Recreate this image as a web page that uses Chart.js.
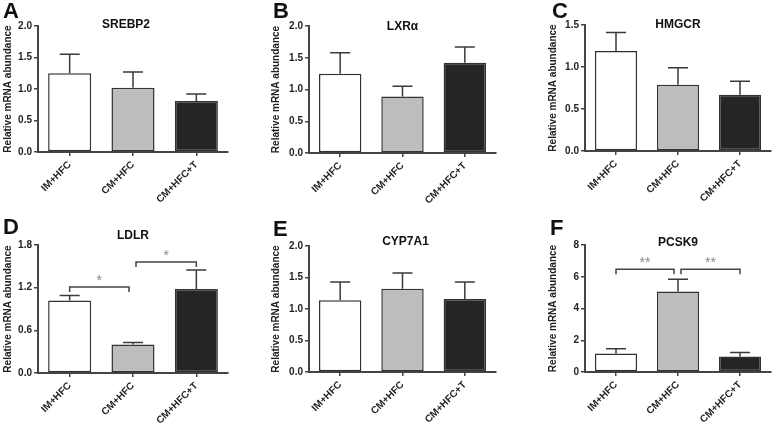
<!DOCTYPE html>
<html>
<head>
<meta charset="utf-8">
<script src="https://cdn.jsdelivr.net/npm/chart.js@4.4.0/dist/chart.umd.min.js"></script>
<style>
body { margin: 0; background: #fff; }
#wrap { position: relative; width: 778px; height: 423px; overflow: hidden; }
canvas { position: absolute; }
</style>
</head>
<body>
<div id="wrap">
  <canvas id="pA" width="259" height="211" style="left:0;top:0"></canvas>
  <canvas id="pB" width="259" height="211" style="left:259px;top:0"></canvas>
  <canvas id="pC" width="260" height="211" style="left:518px;top:0"></canvas>
  <canvas id="pD" width="259" height="212" style="left:0;top:211px"></canvas>
  <canvas id="pE" width="259" height="212" style="left:259px;top:211px"></canvas>
  <canvas id="pF" width="260" height="212" style="left:518px;top:211px"></canvas>
</div>
<script>
const groups = ["IM+HFC", "CM+HFC", "CM+HFC+T"]
const barColors = ["#ffffff", "#bdbdbd", "#252525"]
const yTitle = "Relative mRNA abundance"

// mean and SEM
const srebp2Mean = [1.25, 1.02, 0.81]
const srebp2Sem = [0.30, 0.25, 0.11]
const srebp2Ticks = [0, 0.5, 1.0, 1.5, 2.0]

const lxrMean = [1.25, 0.89, 1.42]
const lxrSem = [0.33, 0.16, 0.25]
const lxrTicks = [0, 0.5, 1.0, 1.5, 2.0]

const hmgcrMean = [1.19, 0.79, 0.67]
const hmgcrSem = [0.22, 0.20, 0.16]
const hmgcrTicks = [0, 0.5, 1.0, 1.5]

const ldlrMean = [1.02, 0.40, 1.18]
const ldlrSem = [0.07, 0.03, 0.27]
const ldlrTicks = [0, 0.6, 1.2, 1.8]
const ldlrSig = [
    { from: 0, to: 1, level: 1.21, mark: "*" },
    { from: 1, to: 2, level: 1.56, mark: "*" }
]

const cypMean = [1.14, 1.32, 1.16]
const cypSem = [0.29, 0.25, 0.27]
const cypTicks = [0, 0.5, 1.0, 1.5, 2.0]

const pcskMean = [1.17, 5.07, 0.98]
const pcskSem = [0.29, 0.78, 0.25]
const pcskTicks = [0, 2, 4, 6, 8]
const pcskSig = [
    { from: 0, to: 1, level: 6.48, mark: "**" },
    { from: 1, to: 2, level: 6.48, mark: "**" }
]

const FONT = "'Liberation Sans', Arial, sans-serif"
const AXIS = "#444"

// error bars, significance brackets, panel letter and gene title
const extras = {
    id: 'extras',
    afterDatasetsDraw(chart, args, o) {
        const ctx = chart.ctx
        const xs = chart.scales.x
        const ys = chart.scales.y
        ctx.save()
        ctx.strokeStyle = "#3a3a3a"
        ctx.lineWidth = 1.5
        o.mean.forEach((m, i) => {
            const cx = xs.getPixelForValue(i)
            const y0 = ys.getPixelForValue(m)
            const y1 = ys.getPixelForValue(m + o.sem[i])
            ctx.beginPath()
            ctx.moveTo(cx, y0)
            ctx.lineTo(cx, y1)
            ctx.moveTo(cx - 10, y1)
            ctx.lineTo(cx + 10, y1)
            ctx.stroke()
        })

        ;(o.sig || []).forEach(s => {
            const x1 = xs.getPixelForValue(s.from) + (s.from === 1 ? 3 : 0)
            const x2 = xs.getPixelForValue(s.to) - (s.to === 1 ? 4 : 0)
            const yb = ys.getPixelForValue(s.level)
            ctx.strokeStyle = AXIS
            ctx.lineWidth = 1.5
            ctx.beginPath()
            ctx.moveTo(x1, yb + 5)
            ctx.lineTo(x1, yb)
            ctx.lineTo(x2, yb)
            ctx.lineTo(x2, yb + 5)
            ctx.stroke()
            ctx.fillStyle = "#8a8a8a"
            ctx.font = "14px " + FONT
            ctx.textAlign = "center"
            ctx.textBaseline = "middle"
            ctx.fillText(s.mark, (x1 + x2) / 2, yb - 6)
        })

        ctx.fillStyle = "#111"
        ctx.textAlign = "left"
        ctx.textBaseline = "alphabetic"
        ctx.font = "bold 22px " + FONT
        ctx.fillText(o.letter, o.letterX, o.letterY)

        const ca = chart.chartArea
        ctx.font = "bold 12px " + FONT
        ctx.textAlign = "center"
        ctx.textBaseline = "middle"
        ctx.fillText(o.title, (ca.left + ca.right) / 2 + o.titleDx, o.titleY)
        ctx.restore()
    }
}

function makePanel(id, p) {
    const canvas = document.getElementById(id)
    const W = canvas.width
    const H = canvas.height
    const tickFont = { family: FONT, size: 10, weight: 'bold' }

    return new Chart(canvas.getContext('2d'), {
        type: 'bar',
        data: {
            labels: groups,
            datasets: [{
                data: p.mean,
                backgroundColor: barColors,
                borderColor: "#333",
                borderWidth: 1.5,
                borderSkipped: false,
                barPercentage: 0.68,
                categoryPercentage: 1
            }]
        },
        options: {
            responsive: false,
            animation: false,
            layout: { padding: { left: p.padL, top: p.top, right: W - p.right, bottom: 0 } },
            plugins: {
                legend: { display: false },
                tooltip: { enabled: false },
                extras: {
                    mean: p.mean, sem: p.sem, sig: p.sig,
                    letter: p.letter, letterX: p.letterX, letterY: p.letterY,
                    title: p.title, titleY: p.titleY, titleDx: p.titleDx || 0
                }
            },
            scales: {
                x: {
                    grid: { display: true, offset: false, drawOnChartArea: false, tickLength: 4, color: AXIS, lineWidth: 1.5 },
                    border: { display: true, color: AXIS, width: 2 },
                    ticks: { minRotation: 45, maxRotation: 45, autoSkip: false, color: "#222", font: tickFont, padding: 3 },
                    afterFit(s) { s.height = H - p.bottom }
                },
                y: {
                    min: 0,
                    max: p.ticks[p.ticks.length - 1],
                    grid: { drawOnChartArea: false, tickLength: 4, color: AXIS, lineWidth: 1.5 },
                    border: { display: true, color: AXIS, width: 2 },
                    ticks: {
                        color: "#222", font: tickFont, padding: 2,
                        callback: v => v.toFixed(p.dec)
                    },
                    title: {
                        display: true, text: yTitle, color: "#222",
                        font: { family: FONT, size: 10, weight: 'bold' },
                        padding: { top: 2, bottom: 0 }
                    },
                    afterBuildTicks(s) { s.ticks = p.ticks.map(v => ({ value: v })) },
                    afterFit(s) { s.width = p.left - p.padL }
                }
            }
        },
        plugins: [extras]
    })
}

makePanel('pA', { mean: srebp2Mean, sem: srebp2Sem, ticks: srebp2Ticks, dec: 1,
    left: 38, right: 228, top: 26, bottom: 152, padL: 0,
    letter: "A", letterX: 3, letterY: 18, title: "SREBP2", titleY: 25, titleDx: -7 })
makePanel('pB', { mean: lxrMean, sem: lxrSem, ticks: lxrTicks, dec: 1,
    left: 50, right: 237, top: 26, bottom: 153, padL: 9,
    letter: "B", letterX: 14, letterY: 18, title: "LXRα", titleY: 27 })
makePanel('pC', { mean: hmgcrMean, sem: hmgcrSem, ticks: hmgcrTicks, dec: 1,
    left: 67, right: 253, top: 25, bottom: 151, padL: 27,
    letter: "C", letterX: 34, letterY: 18, title: "HMGCR", titleY: 25 })
makePanel('pD', { mean: ldlrMean, sem: ldlrSem, ticks: ldlrTicks, dec: 1, sig: ldlrSig,
    left: 38, right: 228, top: 34, bottom: 162, padL: 0,
    letter: "D", letterX: 3, letterY: 23, title: "LDLR", titleY: 25 })
makePanel('pE', { mean: cypMean, sem: cypSem, ticks: cypTicks, dec: 1,
    left: 50, right: 237, top: 35, bottom: 161, padL: 9,
    letter: "E", letterX: 14, letterY: 25, title: "CYP7A1", titleY: 31, titleDx: 3 })
makePanel('pF', { mean: pcskMean, sem: pcskSem, ticks: pcskTicks, dec: 0, sig: pcskSig,
    left: 67, right: 253, top: 34, bottom: 161, padL: 27,
    letter: "F", letterX: 32, letterY: 24, title: "PCSK9", titleY: 32 })
</script>
</body>
</html>
